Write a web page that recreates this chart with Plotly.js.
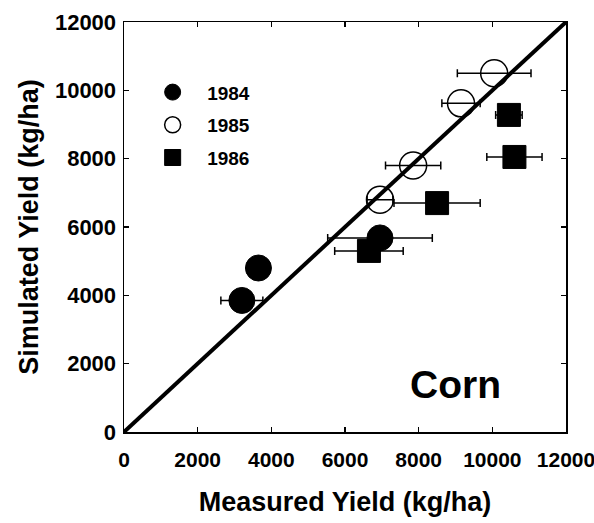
<!DOCTYPE html>
<html>
<head>
<meta charset="utf-8">
<script src="https://cdn.plot.ly/plotly-3.0.1.min.js"></script>
<style>html,body{margin:0;padding:0;background:#fff;}#chart{width:594px;height:523px;}</style>
</head>
<body>
<div id="chart"></div>
<script>
// Data (kg/ha)
var x1984 = [3200, 3650, 6950];
var y1984 = [3850, 4800, 5680];
var e1984 = [570, 0, 1420];

var x1985 = [6950, 7850, 9150, 10050];
var y1985 = [6800, 7800, 9620, 10500];
var e1985 = [350, 750, 520, 1000];

var x1986 = [6650, 8500, 10450, 10600];
var y1986 = [5300, 6700, 9280, 8050];
var e1986 = [930, 1170, 360, 750];

var lineX = [0, 12000];
var lineY = [0, 12000];

var tickVals = [0, 2000, 4000, 6000, 8000, 10000, 12000];
var tickText = ['0', '2000', '4000', '6000', '8000', '10000', '12000'];

var FONT = 'Liberation Sans, Arial, Helvetica, sans-serif';

function errX(arr) {
  return {type: 'data', array: arr, visible: true, color: '#000', thickness: 1.5, width: 4};
}

var traces = [
  {x: x1984, y: y1984, name: '1984', legendgroup: 'g1', type: 'scatter', mode: 'markers',
   error_x: errX(e1984),
   marker: {symbol: 'circle', size: 26, color: '#000', line: {color: '#000', width: 1}}},
  {x: x1985, y: y1985, name: '1985', legendgroup: 'g2', type: 'scatter', mode: 'markers',
   error_x: errX(e1985),
   marker: {symbol: 'circle-open', size: 27, color: '#000', line: {color: '#000', width: 1.5}}},
  {x: x1986, y: y1986, name: '1986', legendgroup: 'g3', type: 'scatter', mode: 'markers',
   error_x: errX(e1986),
   marker: {symbol: 'square', size: 23, color: '#000', line: {color: '#000', width: 1}}},
  {x: lineX, y: lineY, type: 'scatter', mode: 'lines', showlegend: false,
   line: {color: '#000', width: 4}, hoverinfo: 'skip'}
];

var axisCommon = {
  range: [0, 12000],
  tickvals: tickVals,
  ticktext: tickText,
  ticks: 'inside',
  ticklen: 5,
  tickwidth: 1.2,
  tickcolor: '#000',
  showline: true,
  linecolor: '#000',
  linewidth: 1.5,
  mirror: 'ticks',
  showgrid: false,
  zeroline: false,
  ticklabeloverflow: 'allow',
  tickfont: {family: FONT, size: 22, color: '#000', weight: 'bold'}
};

var layout = {
  width: 594,
  height: 523,
  margin: {l: 124, r: 28, t: 22, b: 91},
  paper_bgcolor: '#fff',
  plot_bgcolor: '#fff',
  showlegend: true,
  legend: {
    x: 0.032, y: 0.875, xanchor: 'left', yanchor: 'top',
    bgcolor: 'rgba(0,0,0,0)',
    font: {family: FONT, size: 19, color: '#000', weight: 'bold'},
    itemsizing: 'trace',
    itemwidth: 59,
    tracegroupgap: 5
  },
  xaxis: Object.assign({}, axisCommon, {
    ticklabelstandoff: 8,
    tickfont: {family: FONT, size: 21, color: '#000', weight: 'bold'},
    title: {text: 'Measured Yield (kg/ha)', standoff: 22,
            font: {family: FONT, size: 27, color: '#000', weight: 'bold'}}
  }),
  yaxis: Object.assign({}, axisCommon, {
    ticklabelstandoff: 2,
    title: {text: 'Simulated Yield (kg/ha)', standoff: 8,
            font: {family: FONT, size: 27, color: '#000', weight: 'bold'}}
  }),
  annotations: [
    {x: 9000, y: 1400, xref: 'x', yref: 'y', text: 'Corn', showarrow: false,
     font: {family: FONT, size: 39, color: '#000', weight: 'bold'}}
  ]
};

Plotly.newPlot('chart', traces, layout, {displayModeBar: false, staticPlot: true});
</script>
</body>
</html>
